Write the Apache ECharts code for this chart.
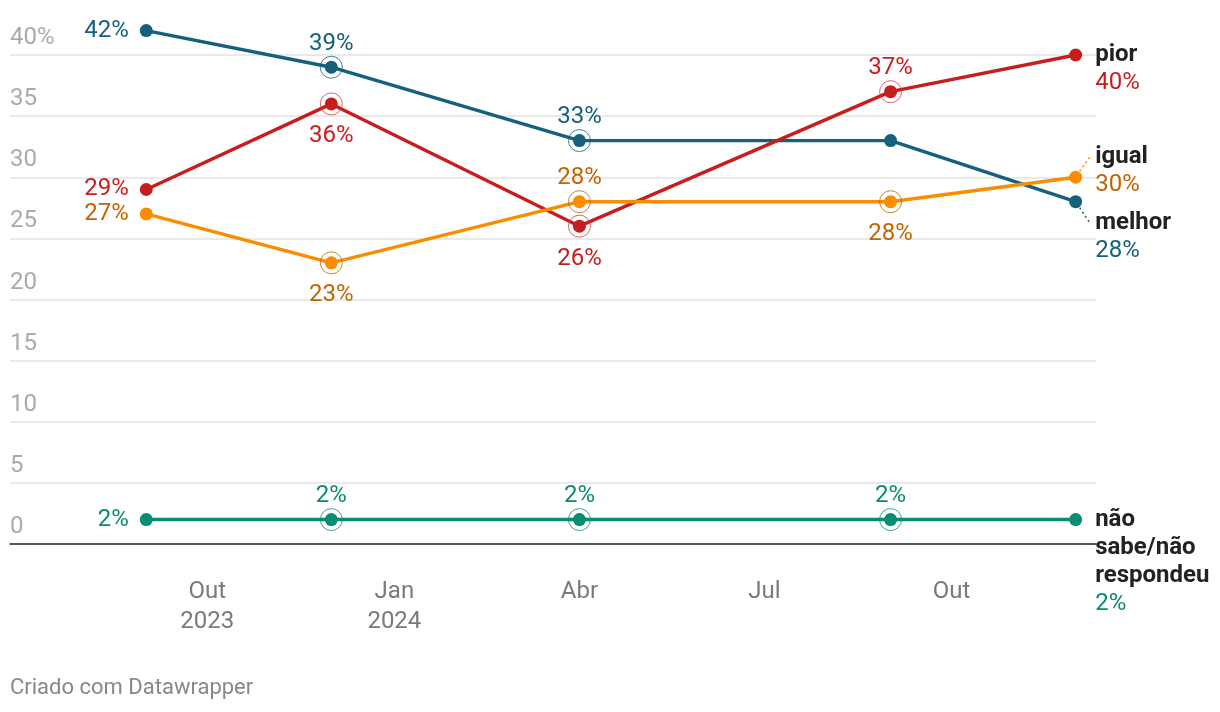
<!DOCTYPE html>
<html>
<head>
<meta charset="utf-8">
<script src="https://cdn.jsdelivr.net/npm/echarts@6/dist/echarts.min.js"></script>
<style>
html,body{margin:0;padding:0;background:#fff;}
#chart{width:1220px;height:712px;}
</style>
</head>
<body>
<div id="chart"></div>
<script>
// ---- data ----
const dates = ['2023-09-01', '2023-12-01', '2024-04-01', '2024-09-01', '2024-12-01'];
const melhor = [42, 39, 33, 33, 28];
const pior = [29, 36, 26, 37, 40];
const igual = [27, 23, 28, 28, 30];
const naoSabe = [2, 2, 2, 2, 2];
const seriesNames = ['melhor', 'pior', 'igual', 'não sabe/não respondeu'];
const endNames = ['melhor', 'pior', 'igual', 'não\nsabe/não\nrespondeu'];
const xTickDates = ['2023-10-01', '2024-01-01', '2024-04-01', '2024-07-01', '2024-10-01'];
const xTickLabels = ['Out\n2023', 'Jan\n2024', 'Abr', 'Jul', 'Out'];
const yTicks = [0, 5, 10, 15, 20, 25, 30, 35, 40];
const yTickLabels = ['0', '5', '10', '15', '20', '25', '30', '35', '40%'];
const xRange = ['2023-06-26', '2024-12-11'];

// which points carry a ring, and where their value label goes (styling, not data)
const ringed = [
  [0, 1, 1, 0, 0],
  [0, 1, 1, 1, 0],
  [0, 1, 1, 1, 0],
  [0, 1, 1, 1, 0]
];
const labelPlace = [
  ['left', 'top', 'top', null, 'end'],
  ['left', 'bottom', 'bottom', 'top', 'end'],
  ['left', 'bottom', 'top', 'bottom', 'end'],
  ['left', 'top', 'top', 'top', 'end']
];
const endShift = [21, 0, -20, 0];

const lineColors = ['#15607a', '#c71e1d', '#fa8c00', '#0a8c72'];
const textColors = ['#15607a', '#c71e1d', '#c36400', '#0a8c72'];
const ringColors = ['#15607a', '#d0403f', '#c36400', '#0a8c72'];
const FONT = 'Roboto, sans-serif';
const FS = 24;

function ts(s) { const p = s.split('-').map(Number); return Date.UTC(p[0], p[1] - 1, p[2]); }
const xTickTs = xTickDates.map(ts);

const values = [melhor, pior, igual, naoSabe];
const series = [];
values.forEach(function (vals, si) {
  const data = vals.map(function (v, i) {
    const place = labelPlace[si][i];
    let label = { show: false };
    if (place === 'left') {
      label = { show: true, position: 'left', distance: 11 };
    } else if (place === 'top') {
      label = { show: true, position: 'top', distance: 5 };
    } else if (place === 'bottom') {
      label = { show: true, position: 'bottom', distance: 14 };
    } else if (place === 'end') {
      const nameLines = endNames[si].split('\n').map(function (t) { return '{n|' + t + '}'; }).join('\n');
      label = {
        show: true, position: 'right', distance: 13,
        verticalAlign: 'top', offset: [0, -14 + endShift[si]],
        formatter: nameLines + '\n{v|' + v + '%}',
        rich: {
          n: { fontFamily: FONT, fontSize: FS, fontWeight: 'bold', color: '#222', lineHeight: 28 },
          v: { fontFamily: FONT, fontSize: FS, color: textColors[si], lineHeight: 28 }
        }
      };
    }
    return { value: [ts(dates[i]), v], label: label };
  });
  series.push({
    name: seriesNames[si],
    type: 'line',
    data: data,
    clip: false,
    symbol: 'circle',
    symbolSize: 13,
    showAllSymbol: true,
    lineStyle: { color: lineColors[si], width: 3.4 },
    itemStyle: { color: lineColors[si] },
    label: {
      formatter: function (p) { return p.value[1] + '%'; },
      fontFamily: FONT, fontSize: FS, color: textColors[si]
    },
    emphasis: { disabled: true },
    z: 3
  });
  const ringData = [];
  vals.forEach(function (v, i) { if (ringed[si][i]) ringData.push([ts(dates[i]), v]); });
  series.push({
    type: 'scatter',
    data: ringData,
    symbol: 'circle',
    symbolSize: 22,
    itemStyle: { color: 'rgba(0,0,0,0)', borderColor: ringColors[si], borderWidth: 1 },
    emphasis: { disabled: true },
    silent: true,
    z: 4
  });
});

function nearestTick(val) {
  let best = -1, bestD = Infinity;
  xTickTs.forEach(function (t, i) { const d = Math.abs(t - val); if (d < bestD) { bestD = d; best = i; } });
  return bestD < 86400000 ? best : -1;
}

const chart = echarts.init(document.getElementById('chart'), null, { renderer: 'canvas' });
const option = {
  animation: false,
  backgroundColor: '#fff',
  textStyle: { fontFamily: FONT },
  grid: { left: 10, right: 124, top: 55, bottom: 168, containLabel: false },
  xAxis: {
    type: 'value',
    min: ts(xRange[0]),
    max: ts(xRange[1]),
    axisLine: { show: true, onZero: false, lineStyle: { color: '#222', width: 1.5 } },
    axisTick: { show: false },
    splitLine: { show: false },
    axisLabel: {
      customValues: xTickTs,
      formatter: function (val) {
        const idx = nearestTick(val);
        return idx >= 0 ? xTickLabels[idx] : '';
      },
      color: '#7a7a7a', fontFamily: FONT, fontSize: FS, lineHeight: 30, margin: 33,
      hideOverlap: false
    }
  },
  yAxis: {
    type: 'value',
    min: 0, max: 40, interval: 5,
    axisLine: { show: false },
    axisTick: { show: false },
    splitLine: { show: true, lineStyle: { color: '#e3e3e3', width: 1.5 } },
    axisLabel: {
      inside: true, margin: 0, align: 'left', verticalAlign: 'bottom',
      padding: [0, 0, 5, 0],
      color: '#aaaaaa', fontFamily: FONT, fontSize: FS,
      formatter: function (v) { const i = yTicks.indexOf(v); return i >= 0 ? yTickLabels[i] : ''; }
    }
  },
  series: series,
  graphic: [{
    type: 'text', left: 10, top: 677,
    style: { text: 'Criado com Datawrapper', fill: '#888', font: '22px Roboto, sans-serif' }
  }]
};
chart.setOption(option);

// dotted connectors for the shifted end labels (positions from the chart's own scales)
const connectors = [];
values.forEach(function (vals, si) {
  if (!endShift[si]) return;
  const last = vals.length - 1;
  const p = chart.convertToPixel({ gridIndex: 0 }, [ts(dates[last]), vals[last]]);
  const dir = endShift[si] > 0 ? 1 : -1;
  connectors.push({
    type: 'line', silent: true, z: 10,
    shape: { x1: p[0] + 4, y1: p[1] + dir * 6, x2: p[0] + 14, y2: p[1] + endShift[si] },
    style: { stroke: lineColors[si], lineWidth: 1.5, lineDash: [2, 3] }
  });
});
chart.setOption({ graphic: option.graphic.concat(connectors) });
</script>
</body>
</html>
